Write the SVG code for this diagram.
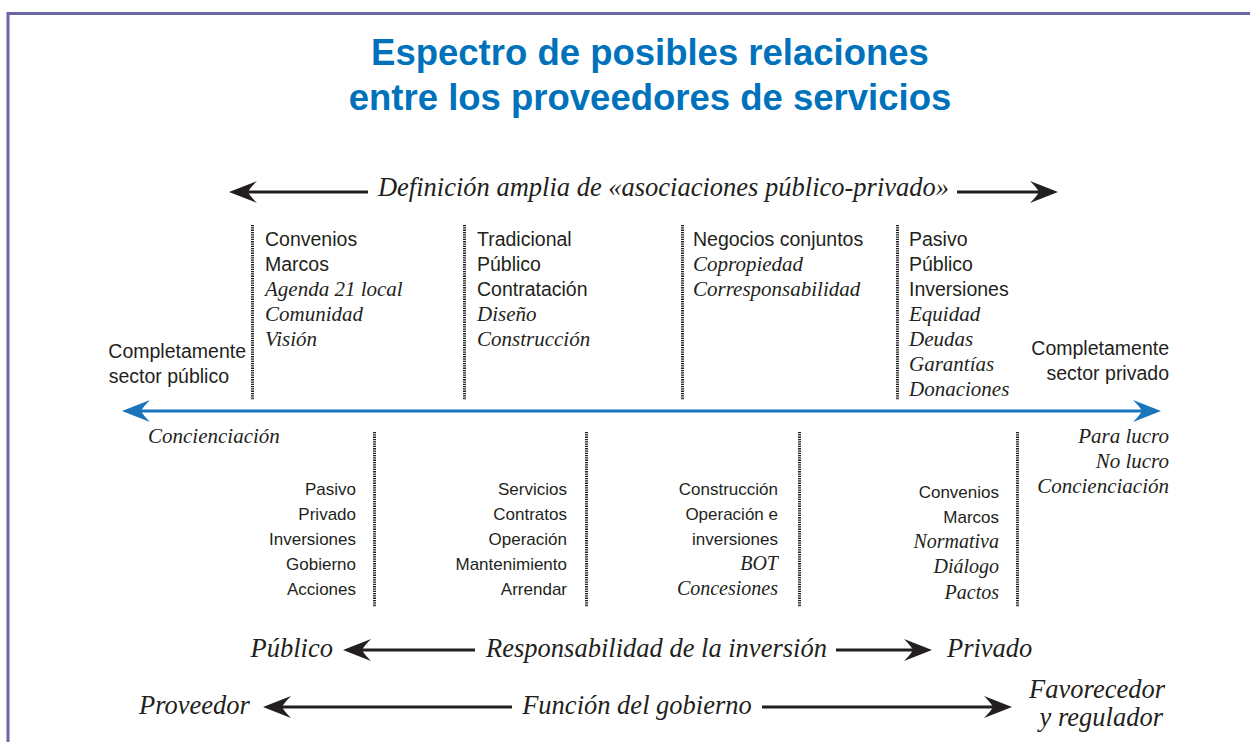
<svg xmlns="http://www.w3.org/2000/svg" width="1250" height="742" viewBox="0 0 1250 742">
<style>
.sans{font-family:"Liberation Sans",Arial,sans-serif;fill:#231f20}
.it{font-family:"Liberation Serif","Times New Roman",serif;font-style:italic;fill:#231f20}
.t{font-size:19.5px}
.b{font-size:17px}
.ti{font-size:21px}
.bi{font-size:20px}
.big{font-size:26.5px}
.title{font-family:"Liberation Sans",Arial,sans-serif;font-weight:bold;font-size:36.5px;fill:#0072bc}
.dot{stroke:#231f20;stroke-width:3;stroke-dasharray:1.3 1;fill:none}
.blk{stroke:#231f20;stroke-width:3;fill:none}
.blu{stroke:#1b75bb;stroke-width:3;fill:none}
</style>
<defs>
<marker id="ahb" markerUnits="userSpaceOnUse" markerWidth="28" markerHeight="22" viewBox="0 0 28 22" refX="20" refY="11" orient="auto-start-reverse">
<path d="M28,11 L0,0 Q7,7 9,11 Q7,15 0,22 Z" fill="#231f20"/>
</marker>
<marker id="ahu" markerUnits="userSpaceOnUse" markerWidth="28" markerHeight="22" viewBox="0 0 28 22" refX="20" refY="11" orient="auto-start-reverse">
<path d="M28,11 L0,0 Q7,7 9,11 Q7,15 0,22 Z" fill="#1b75bb"/>
</marker>
</defs>
<rect x="0" y="0" width="1250" height="742" fill="#ffffff"/>
<rect x="8" y="13.5" width="1400" height="900" fill="none" stroke="#6a67a3" stroke-width="3"/>

<g id="title">
<text class="title" x="650" y="65" text-anchor="middle">Espectro de posibles relaciones</text>
<text class="title" x="650" y="110" text-anchor="middle">entre los proveedores de servicios</text>
</g>

<g id="separators">
<line class="dot" x1="252.5" y1="225" x2="252.5" y2="400"/>
<line class="dot" x1="464.5" y1="225" x2="464.5" y2="400"/>
<line class="dot" x1="682.5" y1="225" x2="682.5" y2="400"/>
<line class="dot" x1="897.5" y1="225" x2="897.5" y2="400"/>
<line class="dot" x1="374.5" y1="432" x2="374.5" y2="607"/>
<line class="dot" x1="586.5" y1="432" x2="586.5" y2="607"/>
<line class="dot" x1="799.5" y1="432" x2="799.5" y2="607"/>
<line class="dot" x1="1017.5" y1="432" x2="1017.5" y2="607"/>
</g>

<g id="connectors">
<line class="blk" x1="237" y1="192" x2="368" y2="192" marker-start="url(#ahb)"/>
<line class="blk" x1="957" y1="192" x2="1050" y2="192" marker-end="url(#ahb)"/>
<line class="blu" x1="130" y1="411" x2="1153" y2="411" marker-start="url(#ahu)" marker-end="url(#ahu)"/>
<line class="blk" x1="351" y1="650" x2="475" y2="650" marker-start="url(#ahb)"/>
<line class="blk" x1="836" y1="650" x2="924" y2="650" marker-end="url(#ahb)"/>
<line class="blk" x1="271" y1="707" x2="512" y2="707" marker-start="url(#ahb)"/>
<line class="blk" x1="762" y1="707" x2="1004" y2="707" marker-end="url(#ahb)"/>
</g>

<g id="label-definicion">
<text class="it big" x="663.5" y="196" text-anchor="middle">Definición amplia de «asociaciones público-privado»</text>
</g>

<g id="top-col-1">
<text class="sans t" x="265" y="246">Convenios</text>
<text class="sans t" x="265" y="271">Marcos</text>
<text class="it ti" x="265" y="296">Agenda 21 local</text>
<text class="it ti" x="265" y="321">Comunidad</text>
<text class="it ti" x="265" y="346">Visión</text>
</g>
<g id="top-col-2">
<text class="sans t" x="477" y="246">Tradicional</text>
<text class="sans t" x="477" y="271">Público</text>
<text class="sans t" x="477" y="296">Contratación</text>
<text class="it ti" x="477" y="321">Diseño</text>
<text class="it ti" x="477" y="346">Construcción</text>
</g>
<g id="top-col-3">
<text class="sans t" x="693" y="246">Negocios conjuntos</text>
<text class="it ti" x="693" y="271">Copropiedad</text>
<text class="it ti" x="693" y="296">Corresponsabilidad</text>
</g>
<g id="top-col-4">
<text class="sans t" x="909" y="246">Pasivo</text>
<text class="sans t" x="909" y="271">Público</text>
<text class="sans t" x="909" y="296">Inversiones</text>
<text class="it ti" x="909" y="321">Equidad</text>
<text class="it ti" x="909" y="346">Deudas</text>
<text class="it ti" x="909" y="371">Garantías</text>
<text class="it ti" x="909" y="396">Donaciones</text>
</g>

<g id="sector-publico">
<text class="sans t" x="246" y="358" text-anchor="end">Completamente</text>
<text class="sans t" x="229" y="383" text-anchor="end">sector público</text>
</g>
<g id="sector-privado">
<text class="sans t" x="1169" y="355" text-anchor="end">Completamente</text>
<text class="sans t" x="1169" y="380" text-anchor="end">sector privado</text>
</g>

<g id="left-label">
<text class="it ti" x="148" y="443">Concienciación</text>
</g>
<g id="right-label">
<text class="it ti" x="1169" y="443" text-anchor="end">Para lucro</text>
<text class="it ti" x="1169" y="468" text-anchor="end">No lucro</text>
<text class="it ti" x="1169" y="493" text-anchor="end">Concienciación</text>
</g>

<g id="bottom-col-1">
<text class="sans b" x="356" y="495" text-anchor="end">Pasivo</text>
<text class="sans b" x="356" y="520" text-anchor="end">Privado</text>
<text class="sans b" x="356" y="545" text-anchor="end">Inversiones</text>
<text class="sans b" x="356" y="570" text-anchor="end">Gobierno</text>
<text class="sans b" x="356" y="595" text-anchor="end">Acciones</text>
</g>
<g id="bottom-col-2">
<text class="sans b" x="567" y="495" text-anchor="end">Servicios</text>
<text class="sans b" x="567" y="520" text-anchor="end">Contratos</text>
<text class="sans b" x="567" y="545" text-anchor="end">Operación</text>
<text class="sans b" x="567" y="570" text-anchor="end">Mantenimiento</text>
<text class="sans b" x="567" y="595" text-anchor="end">Arrendar</text>
</g>
<g id="bottom-col-3">
<text class="sans b" x="778" y="495" text-anchor="end">Construcción</text>
<text class="sans b" x="778" y="520" text-anchor="end">Operación e</text>
<text class="sans b" x="778" y="545" text-anchor="end">inversiones</text>
<text class="it bi" x="778" y="570" text-anchor="end">BOT</text>
<text class="it bi" x="778" y="595" text-anchor="end">Concesiones</text>
</g>
<g id="bottom-col-4">
<text class="sans b" x="999" y="498" text-anchor="end">Convenios</text>
<text class="sans b" x="999" y="523" text-anchor="end">Marcos</text>
<text class="it bi" x="999" y="548" text-anchor="end">Normativa</text>
<text class="it bi" x="999" y="573" text-anchor="end">Diálogo</text>
<text class="it bi" x="999" y="599" text-anchor="end">Pactos</text>
</g>

<g id="row-inversion">
<text class="it big" x="333" y="657" text-anchor="end">Público</text>
<text class="it big" x="656.5" y="657" text-anchor="middle">Responsabilidad de la inversión</text>
<text class="it big" x="947" y="657">Privado</text>
</g>
<g id="row-gobierno">
<text class="it big" x="139" y="714">Proveedor</text>
<text class="it big" x="637" y="714" text-anchor="middle">Función del gobierno</text>
<text class="it big" x="1165" y="698" text-anchor="end">Favorecedor</text>
<text class="it big" x="1163" y="726" text-anchor="end">y regulador</text>
</g>
</svg>
